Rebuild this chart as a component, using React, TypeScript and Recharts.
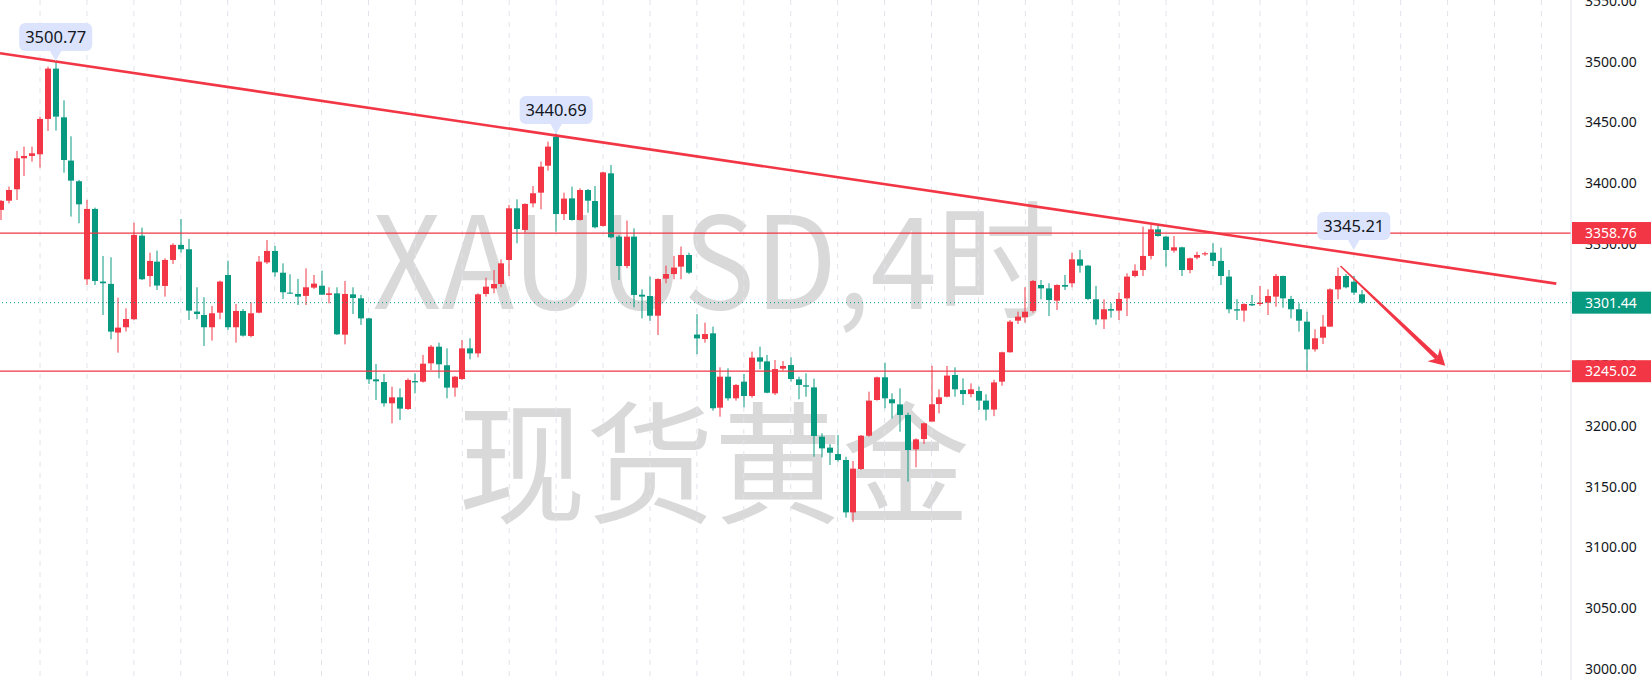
import React from 'react';
import { ComposedChart, Bar, XAxis, YAxis, CartesianGrid, ReferenceLine, ReferenceDot } from 'recharts';

const opens = [
  3377.8, 3385.4, 3394.8, 3420.3, 3422.2, 3423.6, 3452.7, 3494.1, 3454.0, 3418.4,
  3401.4, 3320.7, 3378.6, 3318.8, 3316.9, 3276.8, 3281.2, 3287.8, 3356.6, 3323.4,
  3335.2, 3315.2, 3336.6, 3349.0, 3345.4, 3294.1, 3291.3, 3281.2, 3293.2, 3324.2,
  3281.2, 3294.6, 3274.0, 3293.2, 3334.6, 3344.0, 3326.1, 3309.7, 3308.6, 3307.0,
  3313.8, 3315.4, 3307.8, 3309.1, 3275.1, 3308.3, 3305.0, 3288.5, 3238.3, 3236.1,
  3218.6, 3223.5, 3213.9, 3236.9, 3236.4, 3251.5, 3265.2, 3249.9, 3231.5, 3238.6,
  3263.8, 3259.7, 3308.6, 3313.2, 3316.8, 3336.6, 3379.1, 3361.3, 3383.2, 3392.0,
  3414.2, 3438.1, 3374.4, 3387.3, 3369.5, 3394.2, 3385.1, 3364.6, 3407.9, 3355.8,
  3331.6, 3355.8, 3308.0, 3306.9, 3290.7, 3321.2, 3325.0, 3331.1, 3340.7, 3275.2,
  3271.5, 3276.2, 3215.0, 3240.5, 3222.7, 3236.4, 3224.6, 3256.4, 3253.1, 3226.8,
  3247.1, 3250.1, 3238.3, 3233.4, 3231.7, 3191.1, 3182.1, 3176.8, 3171.9, 3128.8,
  3164.5, 3191.9, 3221.3, 3240.0, 3221.9, 3217.7, 3209.0, 3180.7, 3189.2, 3203.5,
  3218.0, 3224.0, 3241.9, 3229.5, 3226.2, 3228.7, 3220.8, 3213.4, 3236.4, 3260.6,
  3286.6, 3289.4, 3294.6, 3316.0, 3313.2, 3303.1, 3316.0, 3317.4, 3337.1, 3331.9,
  3304.2, 3287.7, 3296.2, 3294.9, 3305.0, 3323.4, 3328.3, 3339.9, 3361.8, 3355.8,
  3344.3, 3347.0, 3328.3, 3338.5, 3341.2, 3342.6, 3335.8, 3322.9, 3296.0, 3294.9,
  3300.3, 3300.3, 3301.4, 3306.4, 3323.4, 3304.5, 3296.0, 3285.8, 3263.0, 3272.6,
  3281.7, 3312.4, 3323.4, 3318.7, 3308.3,
];
const highs = [
  3386.0, 3397.0, 3426.3, 3429.9, 3429.9, 3454.6, 3495.7, 3500.77, 3468.0, 3438.4,
  3402.5, 3386.0, 3379.7, 3339.9, 3338.8, 3305.6, 3296.8, 3367.3, 3363.2, 3342.6,
  3344.3, 3338.0, 3350.3, 3370.3, 3353.9, 3314.1, 3305.9, 3298.7, 3319.6, 3336.0,
  3300.4, 3296.2, 3301.7, 3339.9, 3353.0, 3348.1, 3333.8, 3324.8, 3321.0, 3329.7,
  3324.2, 3327.8, 3314.1, 3314.1, 3319.3, 3314.1, 3307.8, 3289.0, 3251.0, 3242.7,
  3232.3, 3230.9, 3239.1, 3243.3, 3258.4, 3266.6, 3268.5, 3263.8, 3241.1, 3270.7,
  3272.1, 3309.1, 3322.0, 3328.3, 3337.1, 3381.8, 3386.5, 3383.2, 3397.5, 3417.5,
  3434.0, 3440.69, 3392.0, 3397.0, 3395.6, 3395.0, 3397.5, 3409.3, 3414.8, 3357.2,
  3369.0, 3362.6, 3312.4, 3322.9, 3321.5, 3331.9, 3339.9, 3347.6, 3342.6, 3292.0,
  3285.0, 3281.7, 3248.2, 3247.4, 3234.5, 3242.7, 3261.1, 3265.2, 3258.4, 3254.2,
  3253.4, 3256.4, 3240.5, 3243.3, 3238.9, 3193.9, 3185.0, 3192.5, 3174.6, 3171.1,
  3192.5, 3228.2, 3240.5, 3252.0, 3226.8, 3230.9, 3210.9, 3189.7, 3202.7, 3249.5,
  3230.1, 3249.3, 3248.2, 3239.1, 3235.0, 3232.3, 3226.0, 3238.0, 3261.1, 3287.2,
  3294.0, 3314.1, 3320.1, 3320.1, 3317.4, 3316.5, 3324.2, 3342.6, 3344.8, 3332.5,
  3315.2, 3304.2, 3300.9, 3309.7, 3325.6, 3333.0, 3364.0, 3365.4, 3365.4, 3356.3,
  3356.3, 3347.5, 3338.5, 3343.4, 3343.4, 3350.3, 3346.7, 3328.3, 3304.2, 3300.9,
  3307.8, 3315.2, 3312.4, 3325.0, 3323.7, 3307.0, 3300.9, 3294.0, 3279.5, 3291.3,
  3313.2, 3330.3, 3325.0, 3323.4, 3311.9,
];
const lows = [
  3369.5, 3383.2, 3386.0, 3405.7, 3417.5, 3412.6, 3442.8, 3443.1, 3408.5, 3372.3,
  3366.8, 3316.0, 3316.0, 3291.3, 3271.3, 3260.3, 3277.6, 3287.2, 3320.1, 3314.6,
  3311.9, 3306.4, 3333.3, 3342.6, 3287.2, 3287.8, 3265.8, 3270.2, 3287.8, 3279.0,
  3268.5, 3273.5, 3272.9, 3292.7, 3333.3, 3322.9, 3304.5, 3308.6, 3299.5, 3299.5,
  3312.7, 3308.0, 3300.9, 3274.8, 3267.1, 3292.1, 3283.1, 3234.5, 3221.3, 3215.8,
  3202.1, 3204.8, 3213.1, 3226.8, 3235.6, 3246.0, 3239.1, 3222.7, 3224.0, 3237.8,
  3254.8, 3256.4, 3306.4, 3309.1, 3314.1, 3323.4, 3350.3, 3359.1, 3379.9, 3378.3,
  3410.1, 3359.9, 3369.5, 3369.0, 3369.0, 3375.5, 3362.6, 3364.0, 3354.4, 3320.1,
  3329.7, 3297.6, 3288.5, 3286.6, 3274.8, 3317.4, 3320.7, 3320.7, 3325.0, 3259.0,
  3268.5, 3212.5, 3207.6, 3220.8, 3220.8, 3215.3, 3223.2, 3246.6, 3226.8, 3225.4,
  3245.5, 3236.4, 3221.9, 3224.0, 3174.6, 3174.1, 3167.8, 3170.5, 3124.5, 3121.0,
  3163.7, 3191.1, 3220.8, 3214.5, 3206.2, 3195.2, 3154.1, 3165.9, 3185.1, 3204.0,
  3210.3, 3223.5, 3224.0, 3217.2, 3223.5, 3213.1, 3204.5, 3208.0, 3233.0, 3260.3,
  3283.9, 3285.0, 3293.2, 3304.2, 3290.5, 3295.4, 3311.9, 3314.1, 3326.1, 3303.6,
  3283.1, 3279.8, 3289.1, 3287.2, 3290.5, 3322.3, 3323.4, 3337.1, 3355.8, 3331.1,
  3342.6, 3323.4, 3325.6, 3337.1, 3339.9, 3331.6, 3316.0, 3292.7, 3287.2, 3285.8,
  3298.7, 3298.7, 3291.3, 3298.1, 3297.3, 3288.5, 3277.6, 3245.02, 3261.1, 3267.4,
  3281.5, 3304.2, 3313.2, 3307.8, 3300.4,
];
const closes = [
  3385.2, 3394.2, 3420.3, 3422.2, 3424.4, 3452.7, 3494.1, 3454.6, 3418.9, 3401.9,
  3382.4, 3378.6, 3319.3, 3317.4, 3277.6, 3280.9, 3288.0, 3357.2, 3320.7, 3335.8,
  3315.5, 3336.6, 3349.0, 3345.4, 3294.9, 3292.1, 3281.2, 3292.7, 3318.8, 3281.2,
  3294.6, 3274.3, 3292.7, 3335.2, 3344.0, 3326.4, 3310.0, 3308.9, 3306.4, 3314.1,
  3317.1, 3308.0, 3309.1, 3275.4, 3308.6, 3305.3, 3288.5, 3238.3, 3236.7, 3218.6,
  3223.5, 3214.2, 3237.8, 3235.8, 3251.2, 3265.2, 3250.7, 3231.5, 3240.5, 3263.8,
  3259.7, 3308.3, 3314.6, 3316.8, 3333.8, 3379.1, 3362.1, 3382.7, 3391.5, 3413.4,
  3429.9, 3374.4, 3387.1, 3369.5, 3394.2, 3385.4, 3363.5, 3408.7, 3355.2, 3331.6,
  3355.8, 3307.8, 3306.4, 3290.7, 3320.9, 3325.0, 3330.3, 3340.7, 3326.1, 3272.0,
  3275.6, 3214.5, 3240.5, 3222.7, 3233.7, 3224.6, 3256.2, 3252.9, 3227.3, 3246.8,
  3249.3, 3238.6, 3233.7, 3232.3, 3191.7, 3181.5, 3177.9, 3171.9, 3128.8, 3164.8,
  3191.9, 3220.8, 3240.0, 3222.7, 3218.6, 3209.0, 3180.1, 3188.9, 3202.1, 3217.8,
  3223.5, 3241.4, 3230.1, 3226.2, 3230.1, 3220.8, 3213.4, 3235.8, 3260.6, 3285.8,
  3289.9, 3294.0, 3319.3, 3313.2, 3303.6, 3316.0, 3314.6, 3337.1, 3331.9, 3304.5,
  3287.7, 3296.0, 3294.9, 3304.5, 3322.9, 3327.8, 3339.9, 3361.8, 3356.3, 3344.8,
  3347.0, 3328.3, 3338.0, 3340.7, 3342.1, 3335.8, 3323.4, 3296.0, 3294.9, 3300.3,
  3299.2, 3301.4, 3306.9, 3323.4, 3305.0, 3296.0, 3286.6, 3263.0, 3272.1, 3281.7,
  3312.4, 3323.4, 3314.1, 3309.7, 3301.44,
];

const priceTicks = [3000, 3050, 3100, 3150, 3200, 3250, 3300, 3350, 3400, 3450, 3500, 3550];
const levelValues = [3358.76, 3245.02, 3301.44];
const levelColors = ['#F23645', '#F23645', '#089981'];
const lastPrice = 3301.44;
const resistanceLevel = 3358.76;
const supportLevel = 3245.02;
const dayStarts = [5, 11, 17, 23, 29, 35, 41, 47, 53, 59, 65, 71, 77, 83, 89, 95, 101, 107, 113, 119, 125, 131, 137, 143, 149, 155, 161, 167, 173, 179, 185, 191, 197];
const calloutIdx = [7, 71, 173];
const calloutPrice = [3500.77, 3440.69, 3345.21];
const trendIdx = [-0.12, 198.9];
const trendPrice = [3506.8, 3317.1];
const arrowIdx = [171.3, 184.7];
const arrowPrice = [3331.6, 3249.5];
const watermarkLines = ['XAUUSD,4时', '现货黄金'];

const RED = '#F23645';
const GREEN = '#089981';

const data = opens.map((o, i) => ({
  i,
  open: o,
  high: highs[i],
  low: lows[i],
  close: closes[i],
  range: [lows[i], highs[i]],
}));

const Candle = (props: any) => {
  const { x, y, width, height, payload } = props;
  if (!payload || height == null) return null;
  const { open, close, high, low } = payload;
  const up = close >= open;
  const color = up ? RED : GREEN;
  const ratio = high - low > 0 ? height / (high - low) : 0;
  const top = y + (high - Math.max(open, close)) * ratio;
  const bottom = y + (high - Math.min(open, close)) * ratio;
  const bx = Math.round(x);
  const cx = bx + width / 2;
  return (
    <g>
      <line x1={cx} x2={cx} y1={y} y2={y + height} stroke={color} strokeWidth={1} />
      <rect x={bx} y={top} width={width} height={Math.max(1, bottom - top)} fill={color} />
    </g>
  );
};

const PriceTick = (props: any) => {
  const { x, y, payload } = props;
  const v = payload.value;
  const idx = levelValues.indexOf(v);
  const font = '"Noto Sans", "DejaVu Sans", sans-serif';
  if (idx >= 0) {
    return (
      <g>
        <rect x={x + 1} y={y - 11} width={80} height={22} fill={levelColors[idx]} />
        <text x={x + 14} y={y} dy="0.36em" fill="#ffffff" fontSize={14} fontFamily={font}>
          {v.toFixed(2)}
        </text>
      </g>
    );
  }
  return (
    <text x={x + 14} y={y} dy="0.36em" fill="#131722" fontSize={14} fontFamily={font}>
      {v.toFixed(2)}
    </text>
  );
};

const ArrowShape = (props: any) => {
  const { x1, y1, x2, y2 } = props;
  if ([x1, y1, x2, y2].some((v) => v == null || isNaN(v))) return null;
  const dx = x2 - x1;
  const dy = y2 - y1;
  const len = Math.hypot(dx, dy) || 1;
  const ux = dx / len;
  const uy = dy / len;
  const nx = -uy;
  const ny = ux;
  const headLen = 16;
  const headHalf = 9;
  const notch = 11;
  const bx = x2 - ux * headLen;
  const by = y2 - uy * headLen;
  const kx = x2 - ux * notch;
  const ky = y2 - uy * notch;
  const w0 = 0.7;
  const w1 = 2.3;
  const shaft = [
    [x1 + nx * w0, y1 + ny * w0],
    [kx + nx * w1, ky + ny * w1],
    [kx - nx * w1, ky - ny * w1],
    [x1 - nx * w0, y1 - ny * w0],
  ];
  const head = [
    [x2, y2],
    [bx + nx * headHalf, by + ny * headHalf],
    [kx, ky],
    [bx - nx * headHalf, by - ny * headHalf],
  ];
  return (
    <g>
      <polygon points={shaft.map((p) => p.join(',')).join(' ')} fill={RED} />
      <polygon points={head.map((p) => p.join(',')).join(' ')} fill={RED} />
    </g>
  );
};

const Callout = (props: any) => {
  const { cx, cy, text } = props;
  if (cx == null || cy == null) return null;
  const w = 73;
  const h = 28;
  const tip = cy + 0.5;
  const boxBottom = tip - 10;
  const boxTop = boxBottom - h;
  return (
    <g>
      <rect x={cx - w / 2} y={boxTop} width={w} height={h} rx={6} ry={6} fill="#dce4fd" />
      <polygon points={`${cx - 6},${boxBottom - 0.5} ${cx + 6},${boxBottom - 0.5} ${cx},${tip}`} fill="#dce4fd" />
      <text
        x={cx}
        y={boxTop + h / 2}
        dy="0.36em"
        textAnchor="middle"
        fill="#131722"
        fontSize={16.5}
        fontFamily='"Noto Sans", "DejaVu Sans", sans-serif'
      >
        {text}
      </text>
    </g>
  );
};

export default function App() {
  return (
    <div style={{ position: 'absolute', left: 0, top: 0, width: 1651, height: 680, background: '#ffffff', overflow: 'hidden' }}>
      <svg width={1651} height={680} style={{ position: 'absolute', left: 0, top: 0 }}>
        <text
          x={714.5}
          y={309}
          textAnchor="middle"
          fontSize={128}
          fill="#d9d9d9"
          fontFamily='"Noto Sans CJK SC", "Noto Sans", sans-serif'
          textLength={684}
          lengthAdjust="spacingAndGlyphs"
        >
          {watermarkLines[0]}
        </text>
        <text
          x={714}
          y={513}
          textAnchor="middle"
          fontSize={132}
          fill="#d9d9d9"
          fontFamily='"Noto Sans CJK SC", sans-serif'
          textLength={512}
          lengthAdjust="spacingAndGlyphs"
        >
          {watermarkLines[1]}
        </text>
      </svg>
      <div style={{ position: 'absolute', left: 0, top: 0 }}>
        <ComposedChart width={1651} height={680} data={data} margin={{ top: 0, right: 0, bottom: 0, left: 0 }}>
          <CartesianGrid
            horizontal={false}
            vertical
            verticalValues={dayStarts}
            stroke="#e0e3eb"
            strokeDasharray="5 6"
          />
          <XAxis
            type="number"
            dataKey="i"
            domain={[-0.12, 200.78]}
            ticks={dayStarts}
            allowDataOverflow
            hide
          />
          <YAxis
            type="number"
            orientation="right"
            width={80}
            domain={[2990.8, 3550.6]}
            allowDataOverflow
            ticks={[...priceTicks, ...levelValues]}
            interval={0}
            tickLine={false}
            tickSize={0}
            tickMargin={0}
            axisLine={{ stroke: '#e0e3eb' }}
            tick={(p: any) => <PriceTick {...p} />}
          />
          <ReferenceLine y={lastPrice} stroke={GREEN} strokeDasharray="1 3" strokeWidth={1} />
          <ReferenceLine y={resistanceLevel} stroke={RED} strokeWidth={1.3} />
          <ReferenceLine y={supportLevel} stroke={RED} strokeWidth={1.3} />
          <Bar dataKey="range" barSize={6} shape={(p: any) => <Candle {...p} />} isAnimationActive={false} />
          <ReferenceLine
            segment={[
              { x: trendIdx[0], y: trendPrice[0] },
              { x: trendIdx[1], y: trendPrice[1] },
            ]}
            stroke={RED}
            strokeWidth={2.6}
            ifOverflow="visible"
          />
          <ReferenceLine
            segment={[
              { x: arrowIdx[0], y: arrowPrice[0] },
              { x: arrowIdx[1], y: arrowPrice[1] },
            ]}
            stroke={RED}
            ifOverflow="visible"
            shape={(p: any) => <ArrowShape {...p} />}
          />
          {calloutIdx.map((ci, k) => (
            <ReferenceDot
              key={k}
              x={ci}
              y={calloutPrice[k]}
              r={0}
              ifOverflow="visible"
              shape={(p: any) => <Callout {...p} text={calloutPrice[k].toFixed(2)} />}
            />
          ))}
        </ComposedChart>
      </div>
    </div>
  );
}
